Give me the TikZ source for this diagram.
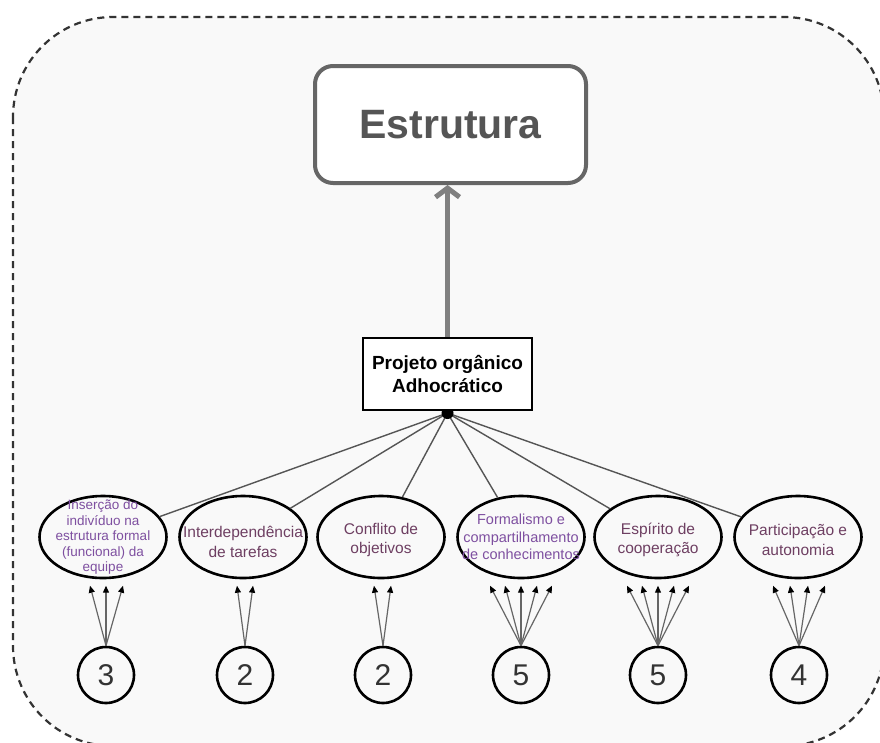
\documentclass[tikz,border=0pt]{standalone}
\usepackage{fontspec}
\setmainfont{Liberation Sans}
\usetikzlibrary{shapes.geometric,arrows.meta,calc}
\definecolor{panel}{HTML}{F9F9F9}
\definecolor{frameline}{HTML}{333333}
\definecolor{topline}{HTML}{666666}
\definecolor{topink}{HTML}{555555}
\definecolor{liftgray}{HTML}{808080}
\definecolor{spokegray}{HTML}{555555}
\definecolor{feedgray}{HTML}{666666}
\definecolor{ovalink}{HTML}{6E3F62}
\definecolor{ovalpurple}{HTML}{7E4FA0}
\definecolor{numink}{HTML}{333333}
\begin{document}
\begin{tikzpicture}[x=1pt,y=-1pt,
  oval/.style={ellipse, draw=black, line width=2.6pt, minimum width=127pt,
    minimum height=82pt, inner sep=0pt, fill=panel},
  ovaltext/.style={align=center, text=ovalink, inner sep=0pt,
    font=\fontsize{15.5}{19.5}\selectfont},
  count/.style={circle, draw=black, line width=2.6pt, minimum size=56pt,
    inner sep=0pt, font=\fontsize{30}{30}\selectfont, text=numink, fill=panel},
  spoke/.style={draw=spokegray, line width=1.4pt},
  feed/.style={draw=feedgray, line width=1.2pt,
    -{Triangle[length=7pt,width=6pt,color=black]}},
  lift/.style={draw=liftgray, line width=5pt,
    -{Straight Barb[length=9pt,width=24pt]}},
  factorbox/.style={draw=black, line width=2.5pt, fill=white, minimum width=169pt,
    minimum height=72pt, align=center, inner sep=0pt,
    font=\bfseries\fontsize{19}{23}\selectfont},
]
\useasboundingbox (0,0) rectangle (880,742);
\clip (0,0) rectangle (880,742);
\fill[white] (0,0) rectangle (880,742);
% dashed rounded frame around the whole model
\draw[draw=frameline, line width=2.2pt, dash pattern=on 7pt off 5pt,
  fill=panel, rounded corners=100pt] (13,17) rectangle (884,746);

% top construct
\node[draw=topline, line width=4pt, rounded corners=18pt, fill=white,
  minimum width=271pt, minimum height=117pt, text=topink,
  font=\bfseries\fontsize{41}{41}\selectfont] (estr) at (450.5,124.5) {Estrutura};

% second-order factor (position only; drawn over the spokes below)
\coordinate (proj) at (447.5,374);
\coordinate (projS) at (447.5,410);
\coordinate (hub) at (447.5,413);

% first-order factors
\node[oval, label={[ovaltext, text=ovalpurple, font=\fontsize{13.5}{15.5}\selectfont]center:{Inserção do\\indivíduo na\\estrutura formal\\(funcional) da\\equipe}}] (e1) at (103,537) {};
\node[oval, label={[ovaltext, yshift=-5pt]center:{Interdependência\\de tarefas}}] (e2) at (243,537) {};
\node[oval, label={[ovaltext, yshift=-3pt]center:{Conflito de\\objetivos}}] (e3) at (381,537) {};
\node[oval, label={[ovaltext, text=ovalpurple, font=\fontsize{14.5}{17.5}\selectfont]center:{Formalismo e\\compartilhamento\\de conhecimentos}}] (e4) at (521,537) {};
\node[oval, label={[ovaltext, yshift=-3pt]center:{Espírito de\\cooperação}}] (e5) at (658,537) {};
\node[oval, label={[ovaltext, yshift=-3pt]center:{Participação e\\autonomia}}] (e6) at (798,537) {};

% loadings from the second-order factor
\foreach \e in {e1,e2,e3,e4,e5,e6}
  \draw[spoke] (hub) -- (\e);
\fill[black] (hub) circle (6pt);
\node[factorbox] (pbox) at (proj) {Projeto orgânico\\Adhocrático};

% path to the top construct
\draw[lift] (pbox.north) -- (pbox.north |- estr.south);

% item counts
\node[count] (c1) at (106,675) {3};
\node[count] (c2) at (245,675) {2};
\node[count] (c3) at (383,675) {2};
\node[count] (c4) at (521,675) {5};
\node[count] (c5) at (658,675) {5};
\node[count] (c6) at (799,675) {4};

\foreach \dx in {-16,0,17} \draw[feed] (c1.north) -- ($(c1.north)+(\dx,-60)$);
\foreach \dx in {-8,8} \draw[feed] (c2.north) -- ($(c2.north)+(\dx,-60)$);
\foreach \dx in {-9,8} \draw[feed] (c3.north) -- ($(c3.north)+(\dx,-60)$);
\foreach \dx in {-31,-16,0,16,31} \draw[feed] (c4.north) -- ($(c4.north)+(\dx,-60)$);
\foreach \dx in {-31,-16,0,16,31} \draw[feed] (c5.north) -- ($(c5.north)+(\dx,-60)$);
\foreach \dx in {-26,-9,9,26} \draw[feed] (c6.north) -- ($(c6.north)+(\dx,-60)$);
\end{tikzpicture}
\end{document}
